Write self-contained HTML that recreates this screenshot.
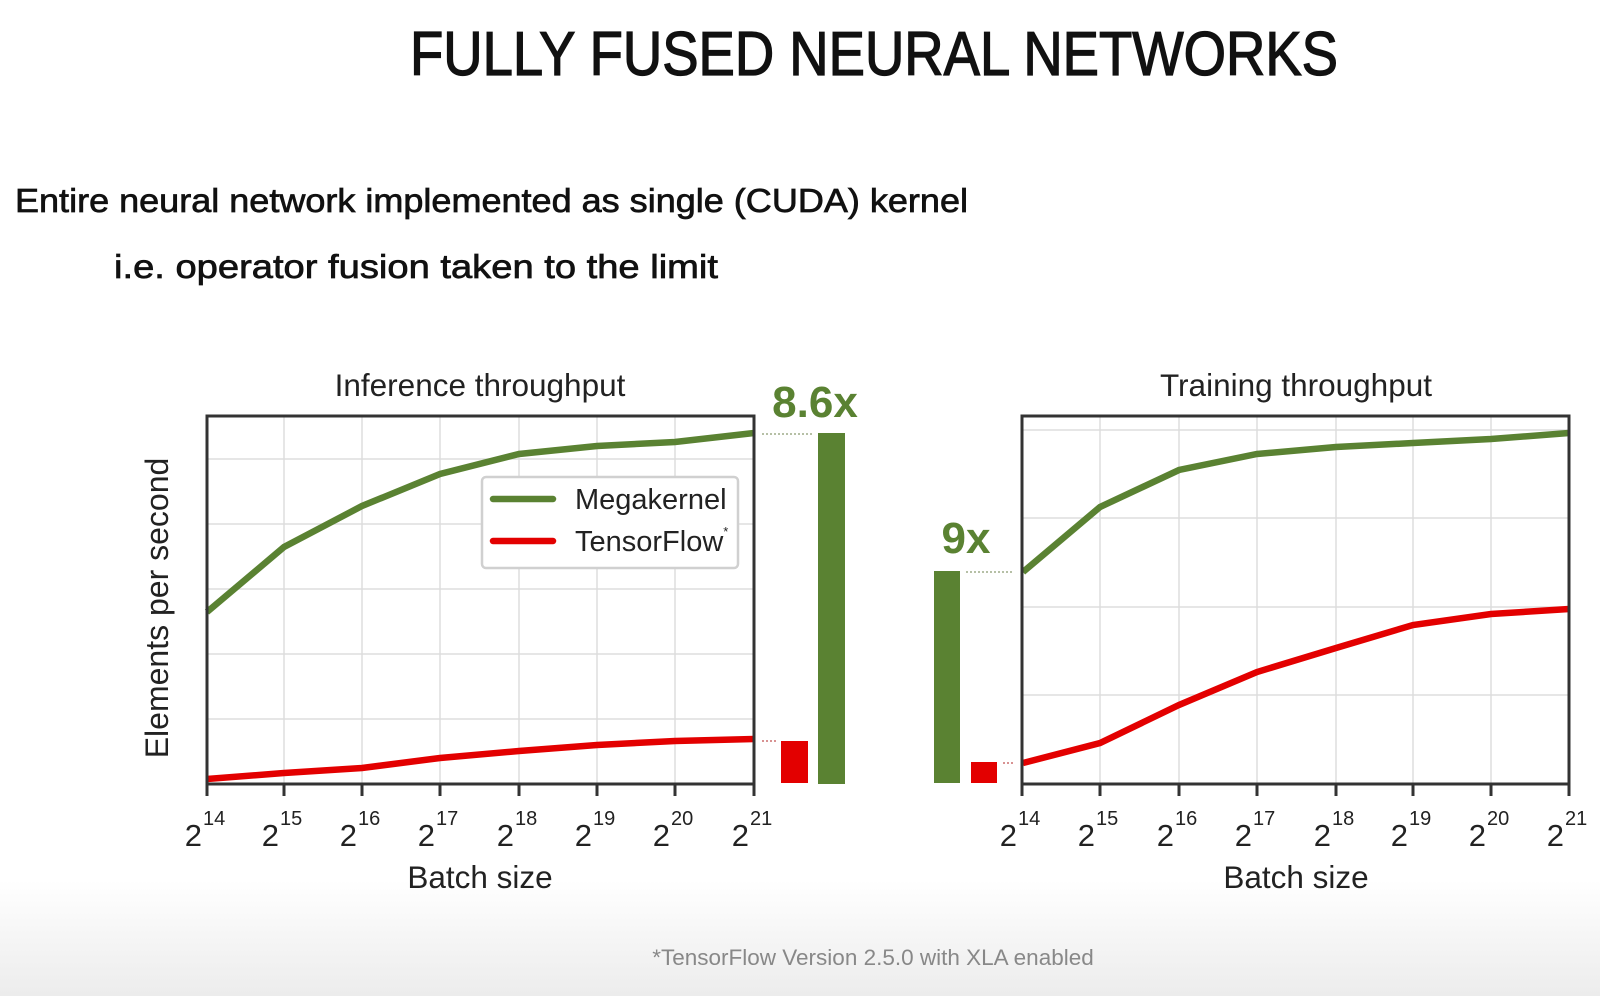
<!DOCTYPE html>
<html><head><meta charset="utf-8"><style>
html,body{margin:0;padding:0;background:#fff;}
svg{display:block;}
text{font-family:"Liberation Sans",sans-serif;}
</style></head><body>
<svg width="1600" height="996" viewBox="0 0 1600 996" xmlns="http://www.w3.org/2000/svg">
<defs>
<linearGradient id="bg" x1="0" y1="0" x2="0" y2="1">
<stop offset="0" stop-color="#ffffff"/><stop offset="1" stop-color="#ececec"/>
</linearGradient>
</defs>
<rect width="1600" height="996" fill="#fff"/>
<rect x="0" y="880" width="1600" height="116" fill="url(#bg)"/>

<text x="410" y="75" font-size="62" textLength="928" lengthAdjust="spacingAndGlyphs" fill="#111" stroke="#111" stroke-width="1.3">FULLY FUSED NEURAL NETWORKS</text>
<text x="15" y="212" font-size="33" textLength="953" lengthAdjust="spacingAndGlyphs" fill="#111" stroke="#111" stroke-width="0.7">Entire neural network implemented as single (CUDA) kernel</text>
<text x="114" y="278" font-size="33" textLength="604" lengthAdjust="spacingAndGlyphs" fill="#111" stroke="#111" stroke-width="0.7">i.e. operator fusion taken to the limit</text>

<!-- Left plot -->
<g stroke="#dddddd" stroke-width="1.5">
<line x1="284" y1="416" x2="284" y2="783"/><line x1="362" y1="416" x2="362" y2="783"/>
<line x1="440" y1="416" x2="440" y2="783"/><line x1="519" y1="416" x2="519" y2="783"/>
<line x1="597" y1="416" x2="597" y2="783"/><line x1="675" y1="416" x2="675" y2="783"/>
<line x1="207" y1="459" x2="754" y2="459"/><line x1="207" y1="524" x2="754" y2="524"/>
<line x1="207" y1="589" x2="754" y2="589"/><line x1="207" y1="654" x2="754" y2="654"/>
<line x1="207" y1="719" x2="754" y2="719"/>
</g>
<polyline points="207,612 284,547 362,506 440,474 519,454 597,446 675,442 754,433" fill="none" stroke="#5a8232" stroke-width="6.5"/>
<polyline points="207,779 284,773 362,768 440,758 519,751 597,745 675,741 754,739" fill="none" stroke="#e30000" stroke-width="6.5"/>
<rect x="207" y="416" width="547" height="368" fill="none" stroke="#333" stroke-width="3"/>
<g stroke="#333" stroke-width="3">
<line x1="207" y1="784" x2="207" y2="796"/><line x1="284" y1="784" x2="284" y2="796"/>
<line x1="362" y1="784" x2="362" y2="796"/><line x1="440" y1="784" x2="440" y2="796"/>
<line x1="519" y1="784" x2="519" y2="796"/><line x1="597" y1="784" x2="597" y2="796"/>
<line x1="675" y1="784" x2="675" y2="796"/><line x1="754" y1="784" x2="754" y2="796"/>
</g>
<rect x="482" y="477" width="256" height="91" rx="4" fill="#fff" stroke="#d0d0d0" stroke-width="2.5"/>
<line x1="493" y1="499" x2="553" y2="499" stroke="#5a8232" stroke-width="6.5" stroke-linecap="round"/>
<line x1="493" y1="541" x2="553" y2="541" stroke="#e30000" stroke-width="6.5" stroke-linecap="round"/>
<text x="575" y="509" font-size="29" fill="#222">Megakernel</text>
<text x="575" y="551" font-size="29" fill="#222">TensorFlow<tspan font-size="13" dy="-15">*</tspan></text>
<text x="480" y="396" font-size="31.5" text-anchor="middle" fill="#222">Inference throughput</text>
<text x="480" y="888" font-size="31.5" text-anchor="middle" fill="#222">Batch size</text>
<text transform="translate(168,608) rotate(-90)" font-size="32" text-anchor="middle" fill="#222">Elements per second</text>
<g font-size="31" fill="#222" text-anchor="end">
<text x="202" y="846">2</text><text x="279" y="846">2</text><text x="357" y="846">2</text><text x="435" y="846">2</text>
<text x="514" y="846">2</text><text x="592" y="846">2</text><text x="670" y="846">2</text><text x="749" y="846">2</text>
</g>
<g font-size="20" fill="#222">
<text x="203" y="825">14</text><text x="280" y="825">15</text><text x="358" y="825">16</text><text x="436" y="825">17</text>
<text x="515" y="825">18</text><text x="593" y="825">19</text><text x="671" y="825">20</text><text x="750" y="825">21</text>
</g>

<!-- middle bars -->
<rect x="781" y="741" width="27" height="42" fill="#e30000"/>
<rect x="818" y="433" width="27" height="351" fill="#5a8232"/>
<line x1="762" y1="434" x2="812" y2="434" stroke="#8a9a70" stroke-width="1.2" stroke-dasharray="2,2"/>
<line x1="762" y1="741" x2="777" y2="741" stroke="#c05050" stroke-width="1.2" stroke-dasharray="2,2"/>
<text x="815" y="417" font-size="44" font-weight="bold" text-anchor="middle" fill="#5a8232">8.6x</text>
<rect x="934" y="571" width="26" height="212" fill="#5a8232"/>
<rect x="971" y="762" width="26" height="21" fill="#e30000"/>
<line x1="966" y1="572" x2="1014" y2="572" stroke="#8a9a70" stroke-width="1.2" stroke-dasharray="2,2"/>
<line x1="1003" y1="763" x2="1014" y2="763" stroke="#c05050" stroke-width="1.2" stroke-dasharray="2,2"/>
<text x="966" y="553" font-size="44" font-weight="bold" text-anchor="middle" fill="#5a8232">9x</text>

<!-- Right plot -->
<g stroke="#dddddd" stroke-width="1.5">
<line x1="1100" y1="416" x2="1100" y2="783"/><line x1="1179" y1="416" x2="1179" y2="783"/>
<line x1="1257" y1="416" x2="1257" y2="783"/><line x1="1336" y1="416" x2="1336" y2="783"/>
<line x1="1413" y1="416" x2="1413" y2="783"/><line x1="1491" y1="416" x2="1491" y2="783"/>
<line x1="1022" y1="430" x2="1569" y2="430"/><line x1="1022" y1="518" x2="1569" y2="518"/>
<line x1="1022" y1="607" x2="1569" y2="607"/><line x1="1022" y1="695" x2="1569" y2="695"/>
</g>
<polyline points="1023,572 1100,507 1179,470 1257,454 1336,447 1413,443 1491,439 1569,433" fill="none" stroke="#5a8232" stroke-width="6.5"/>
<polyline points="1023,763 1100,743 1179,705 1257,672 1336,648 1413,625 1491,614 1569,609" fill="none" stroke="#e30000" stroke-width="6.5"/>
<rect x="1022" y="416" width="547" height="368" fill="none" stroke="#333" stroke-width="3"/>
<g stroke="#333" stroke-width="3">
<line x1="1022" y1="784" x2="1022" y2="796"/><line x1="1100" y1="784" x2="1100" y2="796"/>
<line x1="1179" y1="784" x2="1179" y2="796"/><line x1="1257" y1="784" x2="1257" y2="796"/>
<line x1="1336" y1="784" x2="1336" y2="796"/><line x1="1413" y1="784" x2="1413" y2="796"/>
<line x1="1491" y1="784" x2="1491" y2="796"/><line x1="1569" y1="784" x2="1569" y2="796"/>
</g>
<text x="1296" y="396" font-size="31.5" text-anchor="middle" fill="#222">Training throughput</text>
<text x="1296" y="888" font-size="31.5" text-anchor="middle" fill="#222">Batch size</text>
<g font-size="31" fill="#222" text-anchor="end">
<text x="1017" y="846">2</text><text x="1095" y="846">2</text><text x="1174" y="846">2</text><text x="1252" y="846">2</text>
<text x="1331" y="846">2</text><text x="1408" y="846">2</text><text x="1486" y="846">2</text><text x="1564" y="846">2</text>
</g>
<g font-size="20" fill="#222">
<text x="1018" y="825">14</text><text x="1096" y="825">15</text><text x="1175" y="825">16</text><text x="1253" y="825">17</text>
<text x="1332" y="825">18</text><text x="1409" y="825">19</text><text x="1487" y="825">20</text><text x="1565" y="825">21</text>
</g>

<text x="873" y="965" font-size="22.5" text-anchor="middle" fill="#888">*TensorFlow Version 2.5.0 with XLA enabled</text>
</svg>
</body></html>
